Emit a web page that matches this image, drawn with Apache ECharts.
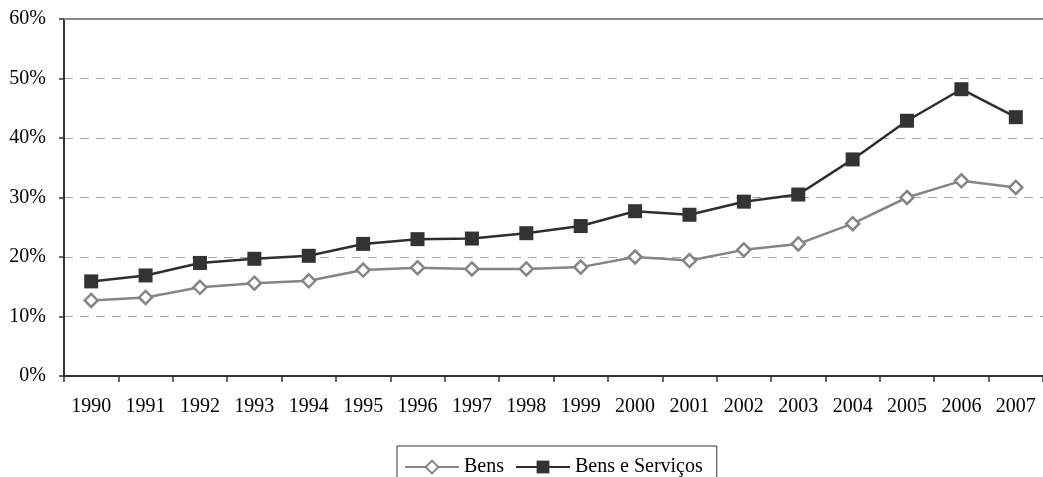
<!DOCTYPE html>
<html>
<head>
<meta charset="utf-8">
<script src="https://cdn.jsdelivr.net/npm/echarts@6/dist/echarts.min.js"></script>
<style>
  html, body { margin: 0; padding: 0; background: #ffffff; }
  #chart { width: 1043px; height: 477px; }
</style>
</head>
<body>
<div id="chart"></div>
<script>
// Years on the category axis
const years = ['1990', '1991', '1992', '1993', '1994', '1995', '1996', '1997', '1998',
               '1999', '2000', '2001', '2002', '2003', '2004', '2005', '2006', '2007'];

// Share in percent
const bens = [12.7, 13.2, 14.9, 15.6, 16.0, 17.8, 18.2, 18.0, 18.0,
              18.3, 20.0, 19.4, 21.2, 22.2, 25.6, 30.0, 32.8, 31.7];
const bensServicos = [15.9, 16.9, 19.0, 19.7, 20.2, 22.2, 23.0, 23.1, 24.0,
                      25.2, 27.7, 27.1, 29.3, 30.5, 36.4, 42.9, 48.2, 43.5];

// Value axis range
const yMin = 0;
const yMax = 60;
const yStep = 10;

const seriesNames = ['Bens', 'Bens e Serviços'];

const FONT = '"Liberation Serif", "Times New Roman", serif';

const chart = echarts.init(document.getElementById('chart'), null, { renderer: 'canvas' });

chart.setOption({
  animation: false,
  backgroundColor: '#ffffff',
  textStyle: { fontFamily: FONT, color: '#000000' },
  grid: { left: 64, top: 19, width: 986, height: 357, containLabel: false },
  legend: {
    data: seriesNames,
    left: 397,
    top: 446,
    orient: 'horizontal',
    itemWidth: 54,
    itemHeight: 16,
    itemGap: 11,
    padding: [11, 14, 20, 7],
    borderColor: '#333333',
    borderWidth: 1,
    textStyle: { fontFamily: FONT, fontSize: 20, color: '#000000' }
  },
  xAxis: [
    {
      type: 'category',
      data: years,
      boundaryGap: true,
      axisLine: { show: true, lineStyle: { color: '#333333', width: 2 } },
      axisTick: { show: true, alignWithLabel: false, length: 6, lineStyle: { color: '#333333', width: 1.5 } },
      axisLabel: { fontFamily: FONT, fontSize: 20, color: '#000000', margin: 21, interval: 0 },
      splitLine: { show: false }
    },
    {
      type: 'category',
      data: years,
      position: 'top',
      axisLine: { show: true, lineStyle: { color: '#8a8a8a', width: 2 } },
      axisTick: { show: false },
      axisLabel: { show: false },
      splitLine: { show: false }
    }
  ],
  yAxis: {
    type: 'value',
    min: yMin,
    max: yMax,
    interval: yStep,
    axisLine: { show: true, lineStyle: { color: '#333333', width: 2 } },
    axisTick: { show: true, length: 5, lineStyle: { color: '#333333', width: 1.5 } },
    axisLabel: {
      fontFamily: FONT, fontSize: 20, color: '#000000', margin: 18,
      formatter: v => v + '%'
    },
    splitLine: { show: true, lineStyle: { color: '#a6a6a6', width: 1, type: [9, 7] } }
  },
  series: [
    {
      name: seriesNames[0],
      type: 'line',
      data: bens,
      symbol: 'diamond',
      symbolSize: 13,
      lineStyle: { color: '#858585', width: 2.5 },
      itemStyle: { color: '#ffffff', borderColor: '#858585', borderWidth: 2.5 },
      z: 2
    },
    {
      name: seriesNames[1],
      type: 'line',
      data: bensServicos,
      symbol: 'rect',
      symbolSize: 14,
      lineStyle: { color: '#2e2e2e', width: 2.5 },
      itemStyle: { color: '#333333', borderColor: '#333333', borderWidth: 0 },
      z: 3
    }
  ]
});
</script>
</body>
</html>
